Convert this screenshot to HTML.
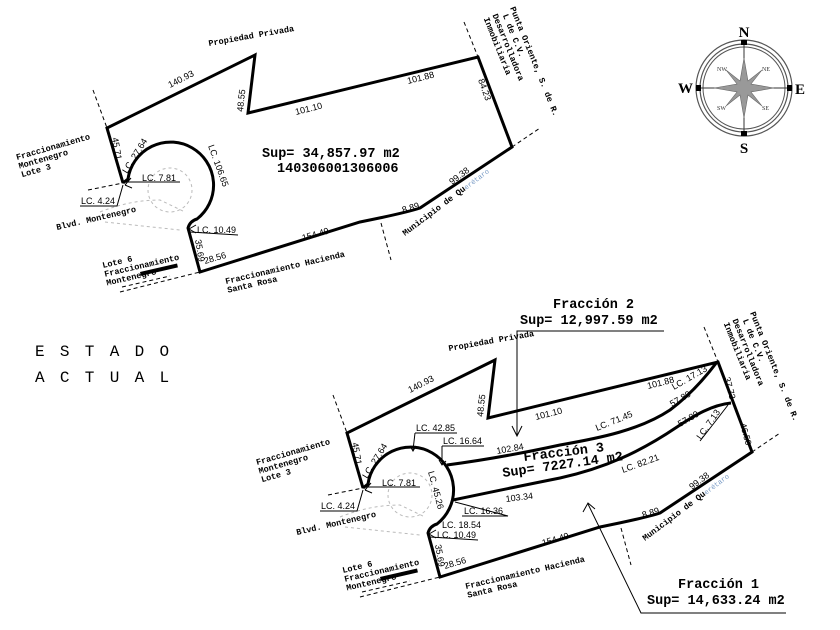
<!DOCTYPE html>
<html><head><meta charset="utf-8"><style>
html,body{margin:0;padding:0;background:#fff;}
svg{display:block;}
.n{font-family:"Liberation Sans",sans-serif;font-size:9px;fill:#000;}
.p{font-family:"Liberation Mono",monospace;font-weight:bold;font-size:8.5px;fill:#000;}
.b{font-family:"Liberation Mono",monospace;font-weight:bold;font-size:13.5px;fill:#000;}
.ln{stroke:#000;stroke-width:3;fill:none;stroke-linejoin:miter;}
.th{stroke:#000;stroke-width:1;fill:none;}
.ds{stroke:#000;stroke-width:1;fill:none;stroke-dasharray:4 3;}
.gr{stroke:#bbb;stroke-width:1;fill:none;stroke-dasharray:3 3;}
</style></head><body>
<svg width="840" height="630" viewBox="0 0 840 630" xmlns="http://www.w3.org/2000/svg">
<defs>
<g id="base">
  <path class="ds" d="M93,90 L107,128"/>
  <path class="ds" d="M464,22 L478,57"/>
  <path class="ds" d="M512,147 L540,128"/>
  <path class="ds" d="M381,223 L391,260"/>
  <path class="ds" d="M88,190 L123,183"/>
  <path class="ds" d="M120,292 L200,272"/>
  <path class="ds" d="M122,287 L170,276"/>
  <path class="gr" d="M100,212 Q130,200 160,200 L185,212"/>
  <path class="gr" d="M105,222 L180,230"/>
  <circle class="gr" cx="170" cy="190" r="22"/>
  <rect x="140" y="272" width="38" height="4" fill="#000" transform="rotate(-13 140 272)"/>
  <path class="ln" d="M123,183 L107,128 L255,55 L248,113 L478,57 L512,147 L420,208 Q405,213 360,222 L200,272 L188,228 Q190,221 197,219 A43,43 0 1,0 128,179 L123,183"/>
  <text class="p" transform="translate(209,46) rotate(-10)">Propiedad Privada</text>
  <text class="n" transform="translate(170,88) rotate(-27)">140.93</text>
  <text class="n" transform="translate(243,112) rotate(-84)">48.55</text>
  <text class="n" transform="translate(296,115) rotate(-14)">101.10</text>
  <text class="n" transform="translate(408,84) rotate(-14)">101.88</text>
  <text class="p" transform="translate(510,8) rotate(68)"><tspan x="0" y="0">Punta Oriente, S. de R.</tspan><tspan x="4" y="9.5">L de C.V.</tspan><tspan x="0" y="19">Desarrolladora</tspan><tspan x="0" y="28.5">Inmobiliaria</tspan></text>
  <text class="p" transform="translate(17,160) rotate(-16)"><tspan x="0" y="0">Fraccionamiento</tspan><tspan x="0" y="9">Montenegro</tspan><tspan x="0" y="18">Lote 3</tspan></text>
  <text class="n" transform="translate(112,138) rotate(80)">45.71</text>
  <text class="n" transform="translate(127,174) rotate(-58)">LC. 27.64</text>
  <text class="n" x="142" y="181">LC. 7.81</text><path class="th" d="M126,182 L180,182"/>
  <path class="th" d="M125,185 L131,178 M125,185 L132,188"/>
  <text class="n" x="81" y="204">LC. 4.24</text><path class="th" d="M80,206 L117,206 L123,185"/>
  <text class="p" transform="translate(57,230) rotate(-13)">Blvd. Montenegro</text>
  <text class="n" x="197" y="233">LC. 10.49</text><path class="th" d="M190,232 L238,235"/>
  <path class="th" d="M189,229 L196,225 M189,229 L196,233"/>
  <text class="n" transform="translate(195,240) rotate(80)">35.69</text>
  <text class="p" transform="translate(103,268) rotate(-13)"><tspan x="0" y="0">Lote 6</tspan><tspan x="0" y="9">Fraccionamiento</tspan><tspan x="0" y="18">Montenegro</tspan></text>
  <text class="n" transform="translate(205,264) rotate(-16)">28.56</text>
  <text class="n" transform="translate(303,241) rotate(-16)">154.49</text>
  <text class="n" transform="translate(403,213) rotate(-16)">8.89</text>
  <text class="n" transform="translate(452,185) rotate(-37)">99.38</text>
  <text class="p" transform="translate(405,236) rotate(-37)">Municipio de Qu<tspan fill="#7a9cc6" style="font-size:7px;font-weight:normal">erétaro</tspan></text>
  <text class="p" transform="translate(226,284) rotate(-13)"><tspan x="0" y="0">Fraccionamiento Hacienda</tspan><tspan x="0" y="9">Santa Rosa</tspan></text>
</g>
</defs>

<use href="#base"/>
<text class="n" transform="translate(478,80) rotate(70)">84.23</text>
<text class="n" transform="translate(208,146) rotate(70)">LC. 106.65</text>
<text class="b" x="262" y="157">Sup= 34,857.97 m2</text>
<text class="b" x="277" y="172">140306001306006</text>

<g transform="translate(744,88)">
  <circle r="48" fill="none" stroke="#555" stroke-width="1.2"/>
  <circle r="44" fill="none" stroke="#555" stroke-width="1.2"/>
  <circle r="41" fill="none" stroke="#555" stroke-width="1"/>
  <path d="M0,-46 L0,46 M-46,0 L46,0" stroke="#333" stroke-width="1"/>
  <path d="M0,-30 L4,-7 L18,-18 L7,-4 L30,0 L7,4 L18,18 L4,7 L0,30 L-4,7 L-18,18 L-7,4 L-30,0 L-7,-4 L-18,-18 L-4,-7 Z" fill="#999" stroke="#666" stroke-width="0.6"/>
  <rect x="-3" y="-48" width="6" height="5" fill="#000"/><rect x="-3" y="43" width="6" height="5" fill="#000"/>
  <rect x="-48" y="-3" width="5" height="6" fill="#000"/><rect x="43" y="-3" width="5" height="6" fill="#000"/>
  <text x="0" y="-51" text-anchor="middle" style="font-family:'Liberation Serif',serif;font-weight:bold;font-size:15px">N</text>
  <text x="0" y="65" text-anchor="middle" style="font-family:'Liberation Serif',serif;font-weight:bold;font-size:15px">S</text>
  <text x="-51" y="5" text-anchor="end" style="font-family:'Liberation Serif',serif;font-weight:bold;font-size:15px">W</text>
  <text x="51" y="6" style="font-family:'Liberation Serif',serif;font-weight:bold;font-size:15px">E</text>
  <g style="font-family:'Liberation Serif',serif;font-size:6px" fill="#333">
  <text x="-27" y="-17">NW</text><text x="18" y="-17">NE</text><text x="-27" y="22">SW</text><text x="18" y="22">SE</text></g>
</g>

<text x="35" y="356" style="font-family:'Liberation Mono',monospace;font-size:16px;letter-spacing:15.3px">ESTADO</text>
<text x="35" y="382" style="font-family:'Liberation Mono',monospace;font-size:16px;letter-spacing:15.3px">ACTUAL</text>

<use href="#base" transform="translate(240,305)"/>
<path class="ln" d="M447,465 Q500,458 560,445 C600,438 640,430 670,410 C690,395 705,378 717,362"/>
<path class="ln" d="M453,500 Q510,488 560,478 C605,468 640,452 677,427 C695,415 712,405 731,403"/>
<text class="n" transform="translate(724,378) rotate(75)">37.73</text>
<text class="n" transform="translate(740,424) rotate(75)">46.50</text>
<text class="n" transform="translate(497,454) rotate(-10)">102.84</text>
<text class="n" transform="translate(506,502) rotate(-7)">103.34</text>
<text class="b" transform="translate(524,461) rotate(-7)">Fracción 3</text>
<text class="b" transform="translate(503,477) rotate(-8)">Sup= 7227.14 m2</text>
<text class="n" transform="translate(597,431) rotate(-22)">LC. 71.45</text>
<text class="n" transform="translate(674,390) rotate(-30)">LC. 17.13</text>
<text class="n" transform="translate(672,407) rotate(-30)">57.80</text>
<text class="n" transform="translate(680,427) rotate(-30)">57.80</text>
<text class="n" transform="translate(701,440) rotate(-55)">LC. 7.13</text>
<path class="th" d="M700,441 L718,418 L728,405"/>
<text class="n" transform="translate(623,473) rotate(-20)">LC. 82.21</text>
<text class="n" x="416" y="431">LC. 42.85</text><path class="th" d="M415,433 L457,433 M415,433 L413,450"/>
<path class="th" d="M410,446 L413,451 L416,446"/>
<text class="n" x="443" y="444">LC. 16.64</text><path class="th" d="M442,446 L484,446 M442,446 L442,464"/>
<path class="th" d="M439,460 L442,465 L446,461"/>
<text class="n" transform="translate(428,472) rotate(75)">LC. 45.26</text>
<text class="n" x="464" y="514">LC. 16.36</text><path class="th" d="M462,516 L508,516 L455,502"/>
<text class="n" x="442" y="528">LC. 18.54</text>
<text class="b" x="553" y="308">Fracción 2</text>
<text class="b" x="520" y="324">Sup= 12,997.59 m2</text>
<path class="th" d="M664,331 L517,331 L517,435"/>
<path class="th" d="M512,426 L517,436 L522,426"/>
<text class="b" x="678" y="588">Fracción 1</text>
<text class="b" x="647" y="604">Sup= 14,633.24 m2</text>
<path class="th" d="M786,613 L641,613 L588,504"/>
<path class="th" d="M583,512 L588,503 L595,509"/>
</svg>
</body></html>
